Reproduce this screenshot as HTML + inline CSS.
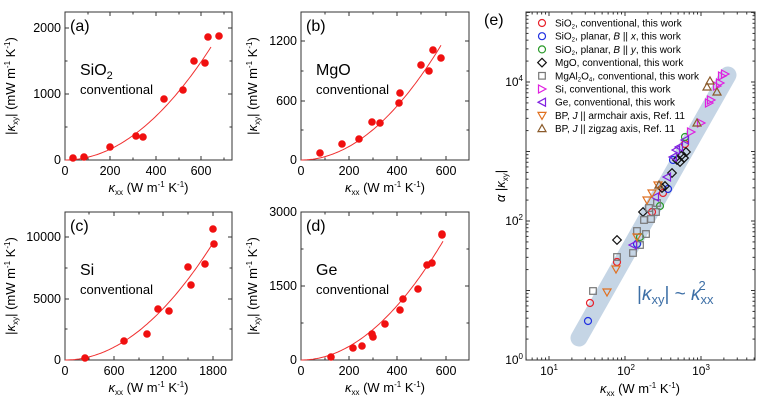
<!DOCTYPE html>
<html><head><meta charset="utf-8"><style>
body{margin:0;background:#fff}
svg{font-family:"Liberation Sans",Arial,sans-serif;display:block}
</style></head><body>
<svg id="s" width="763" height="408" xmlns="http://www.w3.org/2000/svg"></svg>
<script>
const S=document.getElementById('s');let h='';
function t(x,y,s,size,anchor,extra){h+=`<text x="${x}" y="${y}" font-size="${size}" text-anchor="${anchor||'start'}" ${extra||''}>${s}</text>`;}
function panel(x0,y0,x1,y1,xt,yt,label,mat,sub,pts,a,xlab,ylx){
 h+=`<rect x="${x0}" y="${y0}" width="${x1-x0}" height="${y1-y0}" fill="none" stroke="#333" stroke-width="1"/>`;
 xt.forEach(([p,l,minor])=>{h+=`<line x1="${p}" y1="${y1}" x2="${p}" y2="${y1-(minor?2.5:4)}" stroke="#333"/><line x1="${p}" y1="${y0}" x2="${p}" y2="${y0+(minor?2.5:4)}" stroke="#333"/>`;if(l!=='')t(p,y1+15,l,12.5,'middle');});
 yt.forEach(([p,l,minor])=>{h+=`<line x1="${x0}" y1="${p}" x2="${x0+(minor?2.5:4)}" y2="${p}" stroke="#333"/><line x1="${x1}" y1="${p}" x2="${x1-(minor?2.5:4)}" y2="${p}" stroke="#333"/>`;if(l!=='')t(x0-4,p+4,l,12.5,'end');});
 t(x0+5,y0+19,label,16);
 t(x0+15,y0+63,mat,16);
 t(x0+15,y0+82,sub,13);
 let d='';const xe=pts.end;for(let x=x0;x<=xe;x+=2){d+=(x==x0?'M':'L')+x+','+(y1-a*(x-x0)*(x-x0)).toFixed(1);}
 h+=`<path d="${d}" fill="none" stroke="#f03030" stroke-width="1"/>`;
 pts.p.forEach(([x,y])=>{h+=`<circle cx="${x}" cy="${y}" r="3.8" fill="#f01010"/>`;});
 t((x0+x1)/2,y1+32,'<tspan font-style="italic">κ</tspan><tspan font-size="8" dy="3">xx</tspan><tspan dy="-3"> (W m</tspan><tspan font-size="8" dy="-5">-1</tspan><tspan dy="5"> K</tspan><tspan font-size="8" dy="-5">-1</tspan><tspan dy="5">)</tspan>',13,'middle');
 const cy=(y0+y1)/2;
 h+=`<text transform="translate(${ylx},${cy}) rotate(-90)" font-size="13" text-anchor="middle">|<tspan font-style="italic">κ</tspan><tspan font-size="8" dy="3">xy</tspan><tspan dy="-3">| (mW m</tspan><tspan font-size="8" dy="-5">-1</tspan><tspan dy="5"> K</tspan><tspan font-size="8" dy="-5">-1</tspan><tspan dy="5">)</tspan></text>`;
}
panel(65,12,232,160,[[65,'0'],[88,'',1],[110,'200'],[133,'',1],[156,'400'],[179,'',1],[201,'600'],[224,'',1]],
 [[160,'0'],[127,'',1],[94,'1000'],[61,'',1],[28,'2000']],'(a)','SiO<tspan font-size="11" dy="4">2</tspan>','conventional',
 {end:212,p:[[73,158],[84,157],[110,147],[136,136],[143,137],[164,99],[183,90],[194,61],[205,63],[208,37],[219,36]]},0.0053,'',15);
panel(301,12,469,160,[[301,'0'],[325,'',1],[349,'200'],[373,'',1],[397,'400'],[421,'',1],[446,'600']],
 [[160,'0'],[130,'',1],[101,'600'],[71,'',1],[41,'1200']],'(b)','MgO','conventional',
 {end:441,p:[[320,153],[342,144],[359,139],[372,122],[380,123],[399,103],[400,93],[421,65],[429,71],[433,50],[441,58]]},0.00585,'',257);
panel(65,212,232,360,[[65,'0'],[89,'',1],[114,'600'],[139,'',1],[163,'1200'],[188,'',1],[213,'1800']],
 [[360,'0'],[329,'',1],[299,'5000'],[268,'',1],[237,'10000']],'(c)','Si','conventional',
 {end:214,p:[[85,358],[124,341],[147,334],[158,309],[169,311],[188,267],[191,285],[205,264],[213,229],[214,244]]},0.00534,'',15);
panel(301,212,469,360,[[301,'0'],[325,'',1],[349,'200'],[373,'',1],[397,'400'],[421,'',1],[446,'600']],
 [[360,'0'],[323,'',1],[286,'1500'],[249,'',1],[212,'3000']],'(d)','Ge','conventional',
 {end:443,p:[[331,357],[353,348],[362,346],[372,334],[373,337],[385,324],[400,310],[403,299],[418,289],[427,265],[432,263],[442,235],[442,234]]},0.00589,'',257);
const X0=526,X1=755,Y0=12,Y1=360;
h+=`<line x1="579" y1="338" x2="728" y2="75" stroke="#c5d5e5" stroke-width="17" stroke-linecap="round"/>`;
h+=`<rect x="${X0}" y="${Y0}" width="${X1-X0}" height="${Y1-Y0}" fill="none" stroke="#333"/>`;
const xd=76,x10=549;
for(let e=0;e<=3;e++){for(let m=1;m<10;m++){const v=e+Math.log10(m);const p=x10+(v-1)*xd;if(p<X0||p>X1)continue;const L=m==1?4:2.5;h+=`<line x1="${p}" y1="${Y1}" x2="${p}" y2="${Y1-L}" stroke="#333"/><line x1="${p}" y1="${Y0}" x2="${p}" y2="${Y0+L}" stroke="#333"/>`;}}
const yd=69.5;
for(let e=0;e<=5;e++){for(let m=1;m<10;m++){const v=e+Math.log10(m);const p=Y1-v*yd;if(p<Y0||p>Y1)continue;const L=m==1?4:2.5;h+=`<line x1="${X0}" y1="${p}" x2="${X0+L}" y2="${p}" stroke="#333"/><line x1="${X1}" y1="${p}" x2="${X1-L}" y2="${p}" stroke="#333"/>`;}}
[[1,549],[2,626],[3,701]].forEach(([e,p])=>t(p,Y1+15,`10<tspan font-size="8" dy="-5">${e}</tspan>`,12,'middle'));
[[0,360],[2,221],[4,82]].forEach(([e,p])=>t(X0-3,p+4,`10<tspan font-size="8" dy="-5">${e}</tspan>`,12,'end'));
t(484,25,'(e)',16);
t(640,393,'<tspan font-style="italic">κ</tspan><tspan font-size="8" dy="3">xx</tspan><tspan dy="-3"> (W m</tspan><tspan font-size="8" dy="-5">-1</tspan><tspan dy="5"> K</tspan><tspan font-size="8" dy="-5">-1</tspan><tspan dy="5">)</tspan>',13,'middle');
h+=`<text transform="translate(505,186) rotate(-90)" font-size="13" text-anchor="middle"><tspan font-style="italic">α</tspan> |<tspan font-style="italic">κ</tspan><tspan font-size="8" dy="3">xy</tspan><tspan dy="-3">|</tspan></text>`;
h+=`<text x="637" y="300" font-size="19" fill="#3d6fa6">|<tspan font-style="italic">κ</tspan><tspan font-size="13" dy="4">xy</tspan><tspan dy="-4">| ~ </tspan><tspan font-style="italic">κ</tspan><tspan font-size="13" dy="4">xx</tspan><tspan font-size="13" dy="-14" dx="-15">2</tspan></text>`;
function mk(type,x,y,c){const r=3.5;
 if(type=='o')return `<circle cx="${x}" cy="${y}" r="${r}" fill="none" stroke="${c}" stroke-width="1.2"/>`;
 if(type=='d')return `<polygon points="${x},${y-4.3} ${x+4.3},${y} ${x},${y+4.3} ${x-4.3},${y}" fill="none" stroke="${c}" stroke-width="1.2"/>`;
 if(type=='s')return `<rect x="${x-3.3}" y="${y-3.3}" width="6.6" height="6.6" fill="none" stroke="${c}" stroke-width="1.2"/>`;
 if(type=='r')return `<polygon points="${x-3.5},${y-4} ${x+4},${y} ${x-3.5},${y+4}" fill="none" stroke="${c}" stroke-width="1.2"/>`;
 if(type=='l')return `<polygon points="${x+3.5},${y-4} ${x-4},${y} ${x+3.5},${y+4}" fill="none" stroke="${c}" stroke-width="1.2"/>`;
 if(type=='v')return `<polygon points="${x-4},${y-3} ${x+4},${y-3} ${x},${y+4}" fill="none" stroke="${c}" stroke-width="1.2"/>`;
 if(type=='u')return `<polygon points="${x-4},${y+3} ${x+4},${y+3} ${x},${y-4}" fill="none" stroke="${c}" stroke-width="1.2"/>`;}
const series=[
['o','#e8202a',[[590,303],[617,262],[663,193],[685,144],[652,212]],'SiO<tspan font-size="6" dy="2">2</tspan><tspan dy="-2">, conventional, this work</tspan>'],
['o','#2030e0',[[588,321],[637,244],[668,189],[673,160]],'SiO<tspan font-size="6" dy="2">2</tspan><tspan dy="-2">, planar, </tspan><tspan font-style="italic">B</tspan> || <tspan font-style="italic">x</tspan>, this work'],
['o','#2a9a2a',[[640,237],[660,206],[685,137]],'SiO<tspan font-size="6" dy="2">2</tspan><tspan dy="-2">, planar, </tspan><tspan font-style="italic">B</tspan> || <tspan font-style="italic">y</tspan>, this work'],
['d','#111',[[617,240],[643,212],[662,188],[665,186],[672,173],[677,160],[680,162],[682,155],[684,158],[686,152]],'MgO, conventional, this work'],
['s','#777',[[593,291],[617,257],[633,253],[637,231],[640,245],[646,234],[651,219],[656,212],[649,208],[657,203],[644,220]],'MgAl<tspan font-size="6" dy="2">2</tspan><tspan dy="-2">O</tspan><tspan font-size="6" dy="2">4</tspan><tspan dy="-2">, conventional, this work</tspan>'],
['r','#e020e0',[[701,123],[691,132],[709,103],[711,100],[720,83],[722,76],[717,86],[725,74]],'Si, conventional, this work'],
['l','#8020e0',[[633,245],[655,197],[667,177],[673,157],[679,147],[685,140],[676,150]],'Ge, conventional, this work'],
['v','#e07020',[[607,292],[616,269],[637,237],[647,200],[652,193],[658,185]],'BP, <tspan font-style="italic">J</tspan> || armchair axis, Ref. 11'],
['u','#8a5a2a',[[697,123],[707,87],[710,81],[717,92],[659,185]],'BP, <tspan font-style="italic">J</tspan> || zigzag axis, Ref. 11']];
series.forEach(([tp,c,pts,lab],i)=>{pts.forEach(([x,y])=>h+=mk(tp,x,y,c));const ly=23+i*13.2;h+=mk(tp,542,ly,c);t(555,ly+3.5,lab,10);});
S.innerHTML=h;
</script>
</body></html>
